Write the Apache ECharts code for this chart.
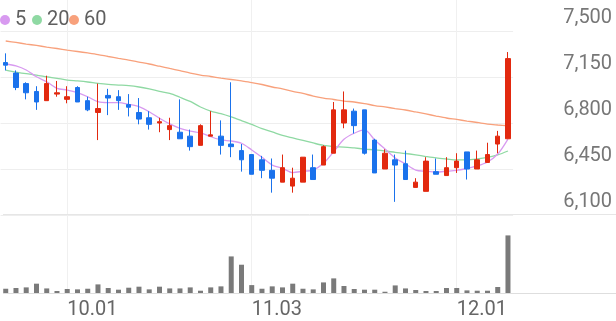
<!DOCTYPE html>
<html><head><meta charset="utf-8">
<script src="https://cdn.jsdelivr.net/npm/echarts@6/dist/echarts.min.js"></script>
<style>html,body{margin:0;padding:0;background:#fff}#c{width:616px;height:321px}</style>
</head><body><div id="c"></div>
<script>
const dates = ['09.23','09.24','09.25','09.26','09.29','09.30','10.01','10.02','10.10','10.13','10.14','10.15','10.16','10.17','10.20','10.21','10.22','10.23','10.24','10.27','10.28','10.29','10.30','10.31','11.03','11.04','11.05','11.06','11.07','11.10','11.11','11.12','11.13','11.14','11.17','11.18','11.19','11.20','11.21','11.24','11.25','11.26','11.27','11.28','12.01','12.02','12.03','12.04','12.05','12.08'];
const labeledDates = ['10.01','11.03','12.01'];
const open  = [7260,7180,7100,7040,6970,7020,6980,7070,6970,6880,7010,7000,6940,6880,6840,6800,6750,6730,6700,6630,6700,6700,6640,6590,6560,6520,6440,6350,6320,6350,6460,6480,6570,6800,6890,6900,6670,6450,6520,6490,6310,6280,6430,6400,6460,6580,6450,6500,6640,6680];
const close = [7240,7070,7030,6960,7100,7030,7000,6960,6900,6910,6990,6970,6920,6830,6790,6810,6780,6680,6620,6780,6710,6630,6620,6520,6410,6440,6380,6460,6380,6540,6370,6620,6900,6900,6780,6570,6420,6570,6480,6370,6350,6510,6410,6460,6510,6450,6520,6560,6700,7290];
const low   = [7200,7050,6980,6900,6970,7000,6950,6960,6890,6670,6860,6900,6850,6790,6750,6730,6670,6680,6590,6630,6700,6560,6540,6430,6410,6380,6270,6350,6270,6350,6370,6480,6570,6760,6720,6560,6420,6450,6200,6370,6310,6280,6410,6400,6420,6370,6450,6500,6570,6680];
const high  = [7330,7200,7110,7080,7160,7120,7080,7080,7000,7100,7060,7050,7020,6990,6890,6840,6840,6980,6750,6790,6890,6820,7110,6640,6560,6550,6530,6560,6460,6540,6560,6630,6960,7040,6910,6900,6680,6600,6560,6590,6380,6540,6530,6540,6570,6580,6590,6650,6740,7340];
const volume = [54,63,71,118,58,25,51,46,54,109,63,42,67,80,46,80,58,58,71,29,71,84,463,358,100,54,84,71,118,54,46,134,185,89,51,42,42,16,96,58,38,25,25,63,63,33,29,29,76,729];
const ma5  = [7249,7234,7203,7152,7114,7064,7051,7031,7000,6962,6955,6955,6942,6924,6886,6836,6793,6760,6739,6724,6696,6671,6663,6646,6595,6539,6480,6455,6423,6433,6442,6493,6582,6676,6722,6747,6671,6602,6534,6488,6442,6433,6427,6433,6440,6455,6473,6503,6564,6678];
const ma20 = [7203,7188,7175,7165,7152,7140,7127,7120,7112,7102,7094,7089,7084,7074,7059,7041,7025,6996,6964,6922,6891,6871,6846,6818,6789,6757,6732,6705,6686,6668,6648,6630,6621,6617,6610,6602,6595,6587,6577,6568,6557,6545,6534,6526,6519,6519,6526,6538,6557,6587];
const ma60 = [7424,7413,7401,7390,7378,7367,7355,7344,7333,7321,7306,7292,7279,7264,7249,7232,7215,7198,7180,7165,7154,7142,7131,7120,7108,7093,7074,7059,7040,7025,7005,6990,6979,6967,6960,6948,6933,6922,6910,6899,6884,6869,6853,6838,6827,6815,6804,6792,6785,6779];
const priceTicks = [6100,6450,6800,7150,7500];
const priceTickLabels = ['6,100','6,450','6,800','7,150','7,500'];
const maNames = ['5','20','60'];

const RED = '#e2290f', BLUE = '#1a72ec';
const C5 = '#d89af0', C20 = '#8fd9a3', C60 = '#f8a17c';
const FONT = 'Roboto';
const showDate = (i, v) => labeledDates.indexOf(dates[i]) >= 0;

const candles = dates.map((d, i) => [open[i], close[i], low[i], high[i]]);

const chart = echarts.init(document.getElementById('c'), null, {renderer: 'canvas'});
const legendBase = {
  orient: 'horizontal', top: 5, padding: [5, 0, 5, 0], icon: 'circle', itemWidth: 10, itemHeight: 10, itemGap: 4,
  textStyle: {fontFamily: FONT, fontSize: 20, color: '#5f5f5f'},
  selectedMode: false
};
chart.setOption({
  animation: false,
  backgroundColor: '#fff',
  legend: [
    Object.assign({}, legendBase, {left: 0, data: [maNames[0]]}),
    Object.assign({}, legendBase, {left: 32, data: [maNames[1]]}),
    Object.assign({}, legendBase, {left: 69, data: [maNames[2]]})
  ],
  grid: [
    {left: 0.6, top: 0, width: 512.5, height: 215},
    {left: 0.6, top: 214, width: 512.5, height: 79}
  ],
  xAxis: [
    {type: 'category', gridIndex: 0, data: dates, boundaryGap: true,
     axisLine: {show: false}, axisTick: {show: false}, axisLabel: {show: false},
     splitLine: {show: true, interval: showDate, alignWithLabel: true, lineStyle: {color: '#f0f0f0', width: 1}}},
    {type: 'category', gridIndex: 1, data: dates, boundaryGap: true,
     axisLine: {show: false}, axisTick: {show: false},
     axisLabel: {show: true, interval: showDate, align: 'left', margin: 7, fontFamily: FONT, fontSize: 20, color: '#666'},
     splitLine: {show: true, interval: showDate, alignWithLabel: true, lineStyle: {color: '#f0f0f0', width: 1}}}
  ],
  yAxis: [
    {type: 'value', gridIndex: 0, position: 'right', min: 6100, max: 7736, scale: true,
     axisLine: {show: false},
     axisTick: {show: false, customValues: priceTicks},
     axisLabel: {show: true, customValues: priceTicks, margin: 99, align: 'right', verticalAlign: 'bottom',
       lineHeight: 27, fontFamily: FONT, fontSize: 20, color: '#777',
       formatter: v => priceTickLabels[priceTicks.indexOf(v)] || ''},
     splitLine: {show: true, showMinLine: true, lineStyle: {color: '#eeeeee', width: 1}}},
    {type: 'value', gridIndex: 1, min: 0, max: 1000,
     axisLine: {show: false}, axisTick: {show: false}, axisLabel: {show: false}, splitLine: {show: false}}
  ],
  graphic: [
    {type: 'line', shape: {x1: 3, y1: 214.5, x2: 616, y2: 214.5}, style: {stroke: '#e6e6e6', lineWidth: 1}, z: 1},
    {type: 'line', shape: {x1: 3, y1: 293.5, x2: 616, y2: 293.5}, style: {stroke: '#dedede', lineWidth: 1}, z: 1}
  ],
  series: [
    {name: maNames[2], type: 'line', xAxisIndex: 0, yAxisIndex: 0, data: ma60, showSymbol: false, smooth: 0.3,
     lineStyle: {color: C60, width: 1.3}, itemStyle: {color: C60}, z: 2},
    {name: maNames[1], type: 'line', xAxisIndex: 0, yAxisIndex: 0, data: ma20, showSymbol: false, smooth: 0.3,
     lineStyle: {color: C20, width: 1.3}, itemStyle: {color: C20}, z: 2},
    {name: maNames[0], type: 'line', xAxisIndex: 0, yAxisIndex: 0, data: ma5, showSymbol: false, smooth: 0.3,
     lineStyle: {color: C5, width: 1.3}, itemStyle: {color: C5}, z: 3},
    {name: 'price', type: 'candlestick', xAxisIndex: 0, yAxisIndex: 0, data: candles, barWidth: 5, z: 4,
     itemStyle: {color: RED, color0: BLUE, borderColor: RED, borderColor0: BLUE, borderWidth: 1}},
    {name: 'volume', type: 'bar', xAxisIndex: 1, yAxisIndex: 1, data: volume, barWidth: 5,
     itemStyle: {color: '#7a7a7a'}}
  ]
});
</script></body></html>
